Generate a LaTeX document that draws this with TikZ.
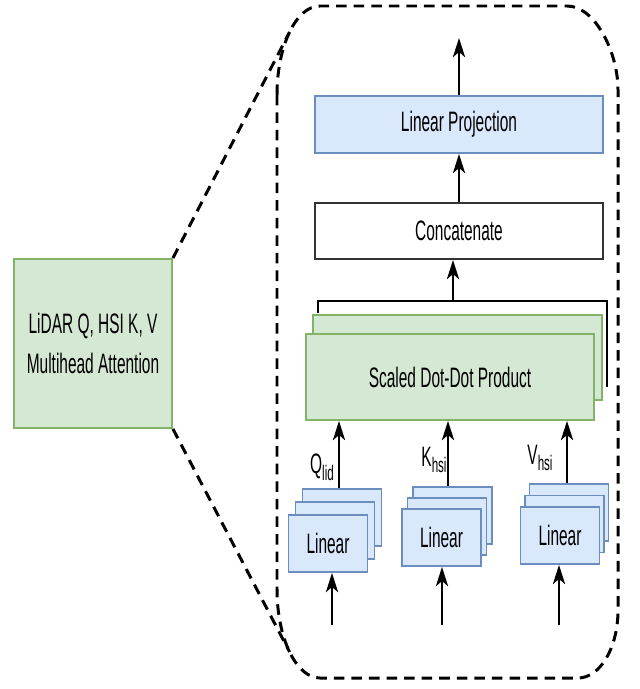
\documentclass[tikz,border=0pt]{standalone}
\usepackage{fontspec}
\setmainfont{Liberation Sans}[FakeStretch=0.55]
\usetikzlibrary{arrows.meta}

\definecolor{blfill}{HTML}{DAE8FC}
\definecolor{bldraw}{HTML}{6C8EBF}
\definecolor{grfill}{HTML}{D5E8D4}
\definecolor{grdraw}{HTML}{82B366}

\newcommand{\lowsub}[1]{\raisebox{-0.45ex}{\fontsize{12}{14}\selectfont #1}}

\begin{document}
\begin{tikzpicture}[
  x=0.02cm, y=-0.02cm,
  txt/.style={font=\fontsize{16}{19}\selectfont},
  box/.style={draw, line width=1.1pt, align=center, txt, inner sep=0pt},
  bluebox/.style={box, draw=bldraw, fill=blfill},
  greenbox/.style={box, draw=grdraw, fill=grfill},
  linbox/.style={bluebox, minimum width=1.58cm, minimum height=1.14cm},
  arrow/.style={-{Stealth[length=11pt, width=7pt, inset=3pt]}, line width=0.9pt},
  frame/.style={line width=1.7pt, dash pattern=on 6pt off 4pt}
]
\useasboundingbox (0,0) rectangle (639,689);

% zoom frame
\draw[frame] (277,95) .. controls (277,46) and (296,6) .. (320,6)
  -- (567,6) .. controls (595,6) and (618,52) .. (618,90)
  -- (618,610) .. controls (618,648) and (600,678) .. (578,678)
  -- (320,678) .. controls (296,678) and (277,638) .. (277,589) -- cycle;

\node[greenbox, minimum width=3.16cm, minimum height=3.38cm] (attn) at (93,343.5)
  {LiDAR Q, HSI K, V\\[4pt]Multihead Attention};
\coordinate (ftop) at (289.6,32);
\coordinate (fbot) at (289.6,652);
\draw[frame] (attn.north east) -- (ftop);
\draw[frame] (attn.south east) -- (fbot);

\node[bluebox, minimum width=5.76cm, minimum height=1.14cm] (proj) at (459,124.5) {Linear Projection};
\node[box, draw=black!80, minimum width=5.76cm, minimum height=1.12cm] (concat) at (459,231) {Concatenate};

% heads
\draw[line width=1.1pt] (318,313) -- (318,301) -- (607,301) -- (607,387);
\node[greenbox, minimum width=5.78cm, minimum height=1.7cm] (sdpb) at (457.5,357.5) {};
\node[greenbox, minimum width=5.76cm, minimum height=1.72cm] (sdp) at (450,377) {Scaled Dot-Dot Product};

\coordinate (out) at (459,38);
\coordinate (join) at (453,301);
\draw[arrow] (proj.north) -- (out);
\draw[arrow] (concat.north) -- (proj.south);
\draw[arrow] (join) -- (join |- concat.south);

% linear stacks
\node[linbox] (qb) at (342,517.5) {};
\node[linbox] (qm) at (335,530.5) {};
\node[linbox] (qf) at (328,543.5) {Linear};
\node[linbox] (kb) at (452.5,515.5) {};
\node[linbox] (km) at (447,526.5) {};
\node[linbox] (kf) at (441.5,537.5) {Linear};
\node[linbox] (vb) at (569,512.5) {};
\node[linbox] (vm) at (564.5,524) {};
\node[linbox] (vf) at (560,535.5) {Linear};

\draw[arrow] ([xshift=-0.06cm]qb.north) -- ([xshift=-0.06cm]qb.north |- sdp.south);
\draw[arrow] ([xshift=-0.09cm]kb.north) -- ([xshift=-0.09cm]kb.north |- sdp.south);
\draw[arrow] ([xshift=-0.04cm]vb.north) -- ([xshift=-0.04cm]vb.north |- sdp.south);

\node[txt] (ql) at (322,467) {Q\lowsub{lid}};
\node[txt] (kl) at (434,460) {K\lowsub{hsi}};
\node[txt] (vl) at (540,458) {V\lowsub{hsi}};

\coordinate (qin) at (332,625);
\coordinate (kin) at (442,625);
\coordinate (vin) at (559,625);
\draw[arrow] (qin) -- (qin |- qf.south);
\draw[arrow] (kin) -- (kin |- kf.south);
\draw[arrow] (vin) -- (vin |- vf.south);

\end{tikzpicture}
\end{document}
